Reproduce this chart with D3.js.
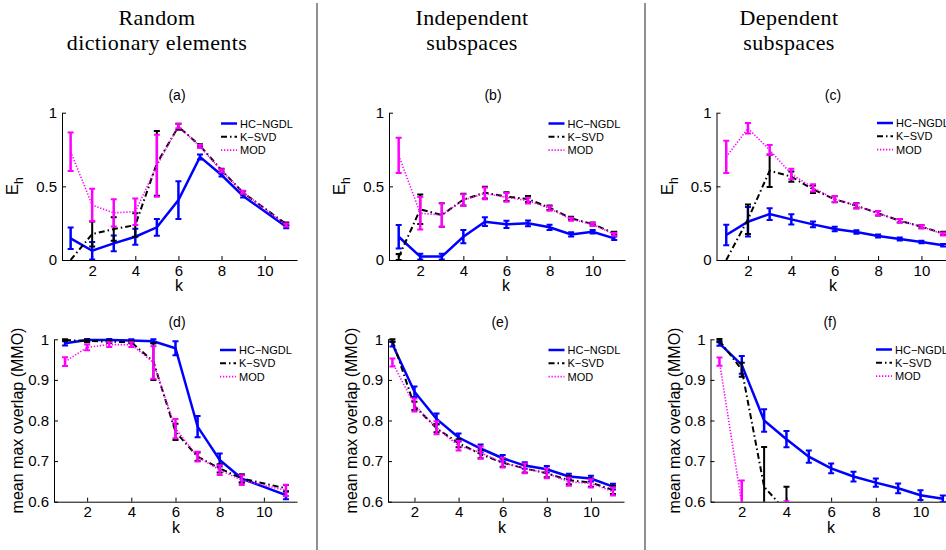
<!DOCTYPE html>
<html>
<head>
<meta charset="utf-8">
<script src="https://cdn.jsdelivr.net/npm/d3@7"></script>
<style>
  body { margin: 0; background: #fff; }
  svg { display: block; }
  text { font-family: "Liberation Sans", Arial, sans-serif; fill: #000; }
  .head { font-family: "Liberation Serif", "DejaVu Serif", serif; }
</style>
</head>
<body>
<svg id="chart" width="946" height="550"></svg>
<script>
// column headers
const headers = [["Random", "dictionary elements"], ["Independent", "subspaces"], ["Dependent", "subspaces"]];
const seriesNames = ["HC\u2212NGDL", "K\u2212SVD", "MOD"];
const topTicks = [0, 0.5, 1];
const bottomTicks = [0.6, 0.7, 0.8, 0.9, 1];
const kTicks = [2, 4, 6, 8, 10];

// (a) random dictionary elements, E_h
const kA = [1, 2, 3, 4, 5, 6, 7, 8, 9, 11];
const hcA = [0.147, 0.063, 0.113, 0.158, 0.222, 0.407, 0.700, 0.577, 0.434, 0.226];
const hcAErr = [0.073, 0.06, 0.054, 0.055, 0.057, 0.128, 0.017, 0.01, 0.01, 0.01];
const ksA = [0, 0.176, 0.21, 0.237, 0.656, 0.905, 0.776, 0.61, 0.457, 0.244];
const ksAErr = [0, 0.085, 0.08, 0.08, 0.22, 0.02, 0.01, 0.01, 0.01, 0.01];
const modA = [0.735, 0.373, 0.32, 0.328, 0.64, 0.91, 0.77, 0.606, 0.46, 0.237];
const modAErr = [0.13, 0.11, 0.093, 0.09, 0.21, 0.015, 0.01, 0.01, 0.01, 0.01];

// (b) independent subspaces, E_h
const kB = [1, 2, 3, 4, 5, 6, 7, 8, 9, 10, 11];
const hcB = [0.158, 0.023, 0.023, 0.158, 0.26, 0.242, 0.249, 0.222, 0.174, 0.192, 0.147];
const hcBErr = [0.08, 0.02, 0.02, 0.045, 0.03, 0.025, 0.02, 0.018, 0.015, 0.012, 0.012];
const ksB = [0.02, 0.344, 0.305, 0.41, 0.457, 0.43, 0.414, 0.355, 0.283, 0.244, 0.181];
const ksBErr = [0.02, 0.1, 0.08, 0.04, 0.04, 0.03, 0.02, 0.015, 0.01, 0.01, 0.01];
const modB = [0.71, 0.317, 0.305, 0.407, 0.452, 0.425, 0.403, 0.35, 0.276, 0.242, 0.174];
const modBErr = [0.12, 0.11, 0.08, 0.04, 0.04, 0.03, 0.02, 0.015, 0.01, 0.01, 0.01];

// (c) dependent subspaces, E_h
const kC = [1, 2, 3, 4, 5, 6, 7, 8, 9, 10, 11];
const hcC = [0.17, 0.26, 0.312, 0.276, 0.242, 0.21, 0.19, 0.163, 0.143, 0.122, 0.1];
const hcCErr = [0.07, 0.1, 0.04, 0.035, 0.02, 0.015, 0.012, 0.01, 0.01, 0.008, 0.008];
const ksC = [0, 0.276, 0.606, 0.566, 0.48, 0.412, 0.369, 0.317, 0.267, 0.226, 0.181];
const ksCErr = [0, 0.1, 0.11, 0.035, 0.025, 0.02, 0.018, 0.015, 0.012, 0.01, 0.01];
const modC = [0.7, 0.894, 0.747, 0.584, 0.49, 0.414, 0.367, 0.317, 0.267, 0.226, 0.176];
const modCErr = [0.11, 0.036, 0.034, 0.035, 0.025, 0.02, 0.018, 0.015, 0.012, 0.01, 0.01];

// (d) random dictionary elements, MMO
const kD = [1, 2, 3, 4, 5, 6, 7, 8, 9, 11];
const hcD = [0.99, 0.998, 0.998, 0.997, 0.995, 0.978, 0.785, 0.703, 0.657, 0.616];
const hcDErr = [0.005, 0.003, 0.003, 0.003, 0.005, 0.017, 0.026, 0.016, 0.01, 0.01];
const ksD = [0.998, 0.996, 0.994, 0.993, 0.945, 0.772, 0.711, 0.682, 0.657, 0.633];
const ksDErr = [0.002, 0.003, 0.003, 0.003, 0.045, 0.02, 0.01, 0.01, 0.01, 0.008];
const modD = [0.945, 0.98, 0.987, 0.987, 0.943, 0.78, 0.711, 0.678, 0.653, 0.628];
const modDErr = [0.011, 0.007, 0.006, 0.006, 0.04, 0.024, 0.012, 0.012, 0.012, 0.014];

// (e) independent subspaces, MMO
const kE = [1, 2, 3, 4, 5, 6, 7, 8, 9, 10, 11];
const hcE = [0.988, 0.871, 0.804, 0.758, 0.731, 0.707, 0.689, 0.68, 0.662, 0.657, 0.637];
const hcEErr = [0.006, 0.013, 0.013, 0.01, 0.01, 0.008, 0.008, 0.008, 0.007, 0.007, 0.007];
const ksE = [0.997, 0.836, 0.781, 0.744, 0.717, 0.696, 0.682, 0.67, 0.653, 0.647, 0.629];
const ksEErr = [0.003, 0.01, 0.01, 0.01, 0.01, 0.01, 0.01, 0.01, 0.01, 0.01, 0.01];
const modE = [0.943, 0.838, 0.782, 0.738, 0.721, 0.696, 0.682, 0.67, 0.649, 0.645, 0.625];
const modEErr = [0.01, 0.016, 0.016, 0.012, 0.015, 0.012, 0.012, 0.012, 0.01, 0.01, 0.01];

// (f) dependent subspaces, MMO (null = below the visible range)
const kF = [1, 2, 3, 4, 5, 6, 7, 8, 9, 10, 11];
const hcF = [0.99, 0.937, 0.8, 0.754, 0.711, 0.682, 0.662, 0.647, 0.633, 0.616, 0.607];
const hcFErr = [0.006, 0.022, 0.028, 0.02, 0.015, 0.012, 0.012, 0.01, 0.012, 0.012, 0.008];
const ksF = [0.997, 0.925, 0.637, 0.575, null, null, null, null, null, null, null];
const ksFErr = [0.004, 0.017, 0.098, 0.062, null, null, null, null, null, null, null];
const modF = [0.945, 0.595, null, 0.56, null, null, null, null, null, null, null];
const modFErr = [0.01, 0.057, null, 0.041, null, null, null, null, null, null, null];

const styles = [
  { color: "#0000ff", width: 2.5, dash: null, errWidth: 2.5 },
  { color: "#000000", width: 2, dash: "6,3,1.5,3", errWidth: 2 },
  { color: "#ff00ff", width: 1.6, dash: "1.3,1.7", errWidth: 2.5 }
];

const panels = [
  { title: "(a)", k: kA, vals: [hcA, ksA, modA], errs: [hcAErr, ksAErr, modAErr], xDom: [0.6, 11.5], xR: [62, 297], yDom: [0, 1], yR: [260, 112.7], ticks: topTicks, fmt: d => d, ylab: "Eh", titleX: 177, titleY: 100, legX: 221, legY: 123.5, kX: 179 },
  { title: "(b)", k: kB, vals: [hcB, ksB, modB], errs: [hcBErr, ksBErr, modBErr], xDom: [0.55, 11.5], xR: [389, 625], yDom: [0, 1], yR: [260, 112.7], ticks: topTicks, fmt: d => d, ylab: "Eh", titleX: 493, titleY: 100, legX: 548.5, legY: 123.5, kX: 506 },
  { title: "(c)", k: kC, vals: [hcC, ksC, modC], errs: [hcCErr, ksCErr, modCErr], xDom: [0.55, 11.5], xR: [716.5, 954], yDom: [0, 1], yR: [260, 112.7], ticks: topTicks, fmt: d => d, ylab: "Eh", titleX: 833, titleY: 100, legX: 877, legY: 123, kX: 833 },
  { title: "(d)", k: kD, vals: [hcD, ksD, modD], errs: [hcDErr, ksDErr, modDErr], xDom: [0.5, 11.5], xR: [54, 297], yDom: [0.6, 1], yR: [501.7, 339.3], ticks: bottomTicks, fmt: d => d === 1 ? "1" : d.toFixed(1), ylab: "mean max overlap (MMO)", titleX: 177, titleY: 327, legX: 220, legY: 350, kX: 176 },
  { title: "(e)", k: kE, vals: [hcE, ksE, modE], errs: [hcEErr, ksEErr, modEErr], xDom: [0.8, 11.5], xR: [388, 624], yDom: [0.6, 1], yR: [501.7, 339.3], ticks: bottomTicks, fmt: d => d === 1 ? "1" : d.toFixed(1), ylab: "mean max overlap (MMO)", titleX: 500, titleY: 327, legX: 548.5, legY: 350, kX: 502 },
  { title: "(f)", k: kF, vals: [hcF, ksF, modF], errs: [hcFErr, ksFErr, modFErr], xDom: [0.6, 11.5], xR: [710.5, 954], yDom: [0.6, 1], yR: [501.7, 339.3], ticks: bottomTicks, fmt: d => d === 1 ? "1" : d.toFixed(1), ylab: "mean max overlap (MMO)", titleX: 830, titleY: 327, legX: 876, legY: 349.5, kX: 831 }
];

const svg = d3.select("#chart");

// headers and separators
const headX = [157, 472, 789];
headers.forEach((lines, i) => {
  lines.forEach((t, j) => {
    svg.append("text").attr("class", "head")
      .attr("x", headX[i]).attr("y", 25 + j * 25)
      .attr("text-anchor", "middle").attr("font-size", 22)
      .attr("letter-spacing", 0.4)
      .text(t);
  });
});
[317, 645].forEach(x => {
  svg.append("line").attr("x1", x).attr("x2", x).attr("y1", 3).attr("y2", 550)
    .attr("stroke", "#222").attr("stroke-width", 1);
});

panels.forEach((p, pi) => {
  const x = d3.scaleLinear().domain(p.xDom).range(p.xR);
  const y = d3.scaleLinear().domain(p.yDom).range(p.yR);
  const g = svg.append("g");

  const clipId = "clip" + pi;
  svg.append("clipPath").attr("id", clipId).append("rect")
    .attr("x", p.xR[0]).attr("y", p.yR[1] - 4)
    .attr("width", p.xR[1] - p.xR[0]).attr("height", p.yR[0] - p.yR[1] + 4);

  // axes (left + bottom, ticks inside)
  const xAxis = g.append("g").attr("transform", `translate(0,${p.yR[0]})`)
    .call(d3.axisBottom(x).tickValues(kTicks).tickSizeInner(-4).tickSizeOuter(0).tickPadding(5));
  const yAxis = g.append("g").attr("transform", `translate(${p.xR[0]},0)`)
    .call(d3.axisLeft(y).tickValues(p.ticks).tickFormat(p.fmt).tickSizeInner(-4).tickSizeOuter(0).tickPadding(5));
  [xAxis, yAxis].forEach(a => {
    a.select(".domain").attr("stroke", "#000").attr("stroke-width", 1);
    a.selectAll(".tick line").attr("stroke", "#000");
    a.selectAll(".tick text").attr("font-size", 15).attr("font-family", "Liberation Sans, Arial, sans-serif").attr("fill", "#000");
  });

  // labels
  g.append("text").attr("x", p.kX)
    .attr("y", p.yR[0] + 31).attr("text-anchor", "middle").attr("font-size", 16).text("k");
  g.append("text").attr("x", p.titleX).attr("y", p.titleY)
    .attr("text-anchor", "middle").attr("font-size", 14).text(p.title);
  const cy = (p.yR[0] + p.yR[1]) / 2;
  if (p.ylab === "Eh") {
    const t = g.append("text").attr("transform", `translate(${p.xR[0] - 44},${cy}) rotate(-90)`)
      .attr("text-anchor", "middle").attr("font-size", 17);
    t.append("tspan").text("E");
    t.append("tspan").attr("font-size", 12).attr("dy", 5).text("h");
  } else {
    g.append("text").attr("transform", `translate(${p.xR[0] - 31},${cy}) rotate(-90)`)
      .attr("text-anchor", "middle").attr("font-size", 16).text(p.ylab);
  }

  // series
  const plot = g.append("g").attr("clip-path", `url(#${clipId})`);
  p.vals.forEach((vals, si) => {
    const st = styles[si];
    const pts = p.k.map((k, i) => ({ k, v: vals[i], e: p.errs[si][i] }));
    const line = d3.line().defined(d => d.v !== null).x(d => x(d.k)).y(d => y(d.v));
    plot.append("path").datum(pts).attr("d", line)
      .attr("fill", "none").attr("stroke", st.color).attr("stroke-width", st.width)
      .attr("stroke-dasharray", st.dash);
    const eb = plot.append("g").attr("stroke", st.color).attr("stroke-width", st.errWidth);
    pts.filter(d => d.v !== null && d.e > 0).forEach(d => {
      const cx = x(d.k), y0 = y(d.v - d.e), y1 = y(d.v + d.e);
      eb.append("line").attr("x1", cx).attr("x2", cx).attr("y1", y0).attr("y2", y1);
      eb.append("line").attr("x1", cx - 3).attr("x2", cx + 3).attr("y1", y0).attr("y2", y0).attr("stroke-width", 2);
      eb.append("line").attr("x1", cx - 3).attr("x2", cx + 3).attr("y1", y1).attr("y2", y1).attr("stroke-width", 2);
    });
  });

  // legend
  const leg = g.append("g");
  seriesNames.forEach((name, si) => {
    const st = styles[si];
    const ly = p.legY + si * 13.3;
    leg.append("line").attr("x1", p.legX).attr("x2", p.legX + 16).attr("y1", ly).attr("y2", ly)
      .attr("stroke", st.color).attr("stroke-width", st.width).attr("stroke-dasharray", st.dash);
    leg.append("text").attr("x", p.legX + 19).attr("y", ly + 4).attr("font-size", 11).text(name);
  });
});
</script>
</body>
</html>
